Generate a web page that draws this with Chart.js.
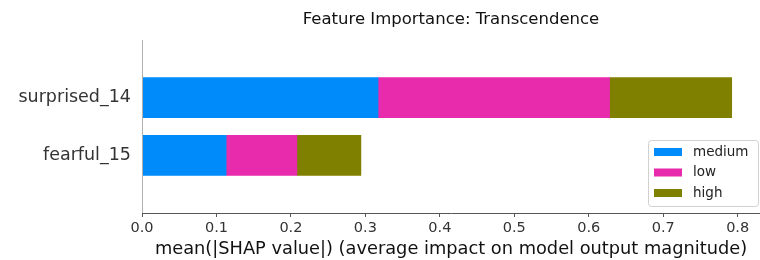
<!DOCTYPE html>
<html>
<head>
<meta charset="utf-8">
<script src="https://cdn.jsdelivr.net/npm/chart.js@4/dist/chart.umd.min.js"></script>
<style>
html,body{margin:0;padding:0;background:#fff;}
#wrap{width:760px;height:260px;position:relative;}
</style>
</head>
<body>
<div id="wrap"><canvas id="c" width="760" height="260"></canvas></div>
<script>
// ---- data ----
const titleText = "Feature Importance: Transcendence";
const xAxisTitle = "mean(|SHAP value|) (average impact on model output magnitude)";
const features = ["surprised_14", "fearful_15"];
const seriesNames = ["medium", "low", "high"];
const mediumValues = [0.317, 0.113];
const lowValues = [0.311, 0.095];
const highValues = [0.164, 0.086];
const xTicks = [0.0, 0.1, 0.2, 0.3, 0.4, 0.5, 0.6, 0.7, 0.8];
const seriesColors = ["#008bfb", "#e82aac", "#808000"];

// padded category list so the two bars sit like the original
const labels = [""].concat(features, [""]);
const pad = arr => [null].concat(arr, [null]);
const seriesValues = [mediumValues, lowValues, highValues];

const datasets = seriesNames.map((n, i) => ({
  label: n,
  data: pad(seriesValues[i]),
  backgroundColor: seriesColors[i],
  borderWidth: 0,
  barThickness: 40
}));

const legendInside = {
  id: 'legendInside',
  afterDraw(chart) {
    const ctx = chart.ctx;
    const x = 648, y = 140, w = 110, h = 66;
    ctx.save();
    ctx.fillStyle = 'rgba(255,255,255,0.85)';
    ctx.strokeStyle = '#d0d0d0';
    ctx.lineWidth = 1;
    ctx.beginPath();
    ctx.roundRect(x + 0.5, y + 0.5, w, h, 3);
    ctx.fill();
    ctx.stroke();
    ctx.font = '13.5px "DejaVu Sans"';
    ctx.textBaseline = 'middle';
    chart.data.datasets.forEach((ds, i) => {
      const cy = y + 12 + i * 20.5;
      ctx.fillStyle = ds.backgroundColor;
      ctx.fillRect(x + 6, cy - 4, 28, 8);
      ctx.fillStyle = '#222';
      ctx.fillText(ds.label, x + 45, cy);
    });
    ctx.restore();
  }
};

const spineAndTitle = {
  id: 'spineAndTitle',
  afterDraw(chart) {
    const a = chart.chartArea, ctx = chart.ctx;
    ctx.save();
    ctx.strokeStyle = '#b0b0b0';
    ctx.lineWidth = 1;
    ctx.beginPath();
    ctx.moveTo(Math.round(a.left) + 0.5, a.top);
    ctx.lineTo(Math.round(a.left) + 0.5, a.bottom);
    ctx.stroke();
    ctx.fillStyle = '#111';
    ctx.font = '16.5px "DejaVu Sans"';
    ctx.textAlign = 'center';
    ctx.textBaseline = 'middle';
    ctx.fillText(titleText, (a.left + a.right) / 2, 20);
    ctx.restore();
  }
};

new Chart(document.getElementById('c'), {
  type: 'bar',
  data: { labels: labels, datasets: datasets },
  plugins: [legendInside, spineAndTitle],
  options: {
    indexAxis: 'y',
    responsive: false,
    animation: false,
    layout: { padding: { left: 0, right: 0, top: 40, bottom: 0 } },
    plugins: {
      legend: { display: false },
      tooltip: { enabled: false },
      title: { display: false }
    },
    scales: {
      x: {
        type: 'linear',
        stacked: true,
        min: 0,
        max: 0.83,
        afterBuildTicks(scale) { scale.ticks = xTicks.map(v => ({ value: v })); },
        afterFit(scale) { scale.height = 47; },
        ticks: {
          color: '#333',
          font: { family: 'DejaVu Sans', size: 14.5 },
          padding: 3,
          callback: v => Number(v).toFixed(1)
        },
        grid: { drawOnChartArea: false, drawTicks: true, tickLength: 4, color: '#555' },
        border: { display: true, color: '#555', width: 1 },
        title: {
          display: true,
          text: xAxisTitle,
          color: '#111',
          font: { family: 'DejaVu Sans', size: 17.8 },
          padding: { top: 0, bottom: 0 }
        }
      },
      y: {
        type: 'category',
        stacked: true,
        offset: false,
        afterFit(scale) { scale.width = 142; },
        ticks: {
          color: '#333',
          font: { family: 'DejaVu Sans', size: 17.5 },
          padding: 11
        },
        grid: { display: false, drawTicks: false },
        border: { display: false }
      }
    }
  }
});
</script>
</body>
</html>
